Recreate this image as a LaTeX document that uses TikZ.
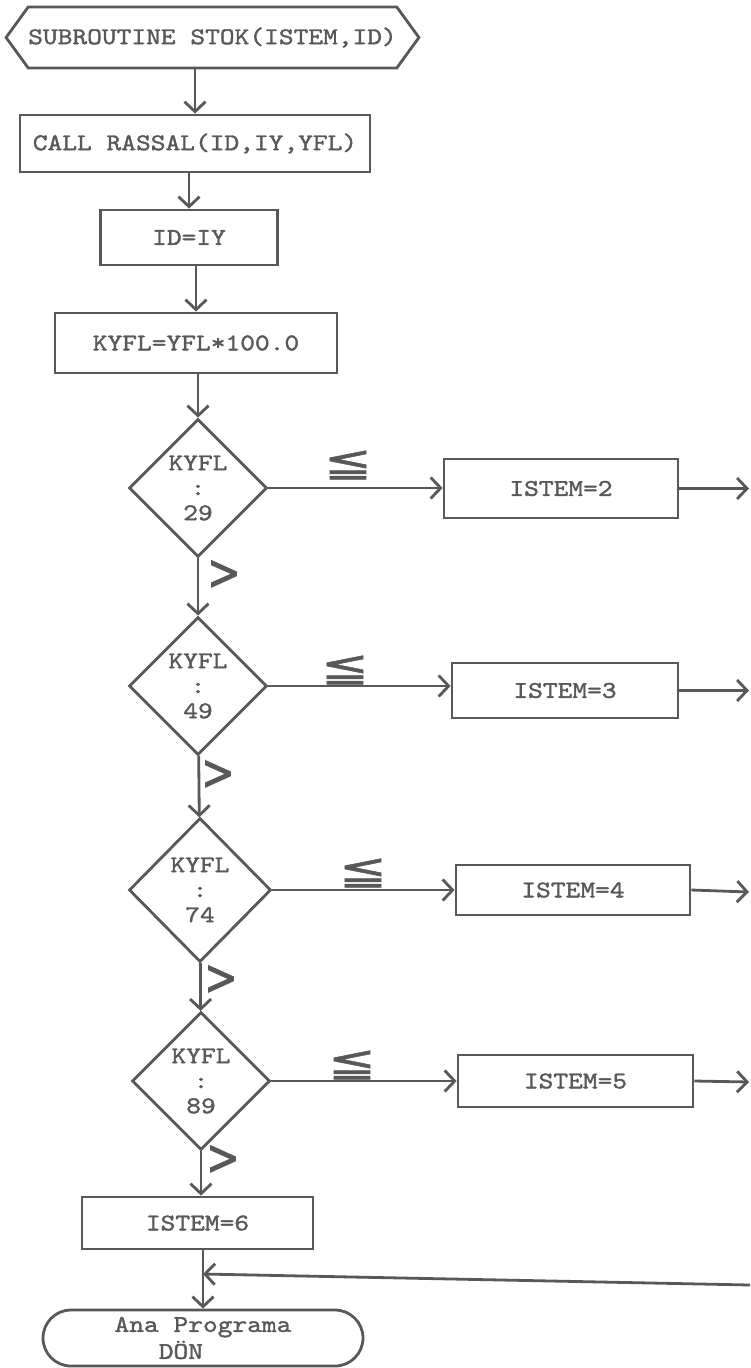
\documentclass[tikz,border=0pt]{standalone}
\usepackage{fontspec}
\usetikzlibrary{shapes.geometric,shapes.misc,shapes.symbols,arrows.meta}
\newfontfamily\typefont[FakeStretch=1.17,FakeBold=1.5]{lmmono10-regular.otf}
\newfontfamily\lefont[FakeStretch=1.45,FakeBold=1.2]{DejaVu Sans}
\newfontfamily\gtfont[FakeStretch=0.8,FakeBold=1.6]{DejaVu Sans}
\definecolor{ink}{RGB}{88,88,88}

\begin{document}
\begin{tikzpicture}[x=1pt, y=-1pt, color=ink, line width=2.8pt,
  >={Straight Barb[length=10pt,width=21pt]},
  tw/.style={font=\typefont\fontsize{24}{25}\selectfont},
  box/.style={draw, rectangle, tw, inner sep=0pt},
  test/.style={draw, diamond, aspect=1, tw, align=center, inner sep=0pt, minimum width=138pt, minimum height=138pt},
  le/.style={font=\lefont\fontsize{40}{40}\selectfont, inner sep=0pt},
  gt/.style={font=\gtfont\fontsize{50}{50}\selectfont, inner sep=0pt}]
\useasboundingbox (0,0) rectangle (750,1368);

% Start
\node[draw, signal, signal to=west and east, signal pointer angle=108, tw,
  minimum width=405pt, minimum height=61pt, inner sep=0pt] (sub) at (212.5,37.5) {SUBROUTINE STOK(ISTEM,ID)};

% Main column
\node[box, minimum width=350pt, minimum height=57pt] (rassal) at (195,143.5) {CALL RASSAL(ID,IY,YFL)};
\node[box, minimum width=177pt, minimum height=55pt] (idiy) at (189,237.5) {ID=IY};
\node[box, minimum width=282pt, minimum height=60pt] (kyfl) at (196,343) {KYFL=YFL*100.0};

% Tests
\node[test] (t29) at (198,488) {KYFL\\:\\29};
\node[test] (t49) at (198,686) {KYFL\\:\\49};
\node[test, minimum width=142pt, minimum height=144pt] (t74) at (200,890) {KYFL\\:\\74};
\node[test] (t89) at (201,1081) {KYFL\\:\\89};

% Assignments
\node[box, minimum width=234pt, minimum height=59pt] (i2) at (561,488.5) {ISTEM=2};
\node[box, minimum width=226pt, minimum height=55pt] (i3) at (565,690.5) {ISTEM=3};
\node[box, minimum width=234pt, minimum height=50pt] (i4) at (573,890) {ISTEM=4};
\node[box, minimum width=235pt, minimum height=52pt] (i5) at (575.5,1081) {ISTEM=5};
\node[box, minimum width=231pt, minimum height=52pt] (i6) at (197.5,1223) {ISTEM=6};

% End
\node[draw, rounded rectangle, tw, align=left, minimum width=320pt, minimum height=56pt,
  inner sep=0pt] (ana) at (203,1338) {Ana Programa\\[2pt]\hphantom{Ana}DÖN};

% Free ends
\coordinate (o2) at (749,488.5);
\coordinate (o3) at (749,690.5);
\coordinate (o4) at (749,892);
\coordinate (o5) at (749,1082);
\coordinate (back) at (750,1285);
\coordinate (join) at (203,1274);

% Flow
\draw[->] (rassal.north |- sub.south) -- (rassal.north);
\draw[->] (idiy.north |- rassal.south) -- (idiy.north);
\draw[->] (kyfl.north |- idiy.south) -- (kyfl.north);
\draw[->] (t29.north |- kyfl.south) -- (t29.north);
\draw[->] (t29) -- (t49);
\draw[->] (t49) -- (t74);
\draw[->] (t74) -- (t89);
\draw[->] (t89.south) -- (t89.south |- i6.north);

% Yes branches
\draw[->] (t29.east) -- (t29.east -| i2.west);
\draw[->] (t49.east) -- (t49.east -| i3.west);
\draw[->] (t74.east) -- (t74.east -| i4.west);
\draw[->] (t89.east) -- (t89.east -| i5.west);
\draw[->] (i2.east) -- (o2);
\draw[->] (i3.east) -- (o3);
\draw[->] (i4.east) -- (o4);
\draw[->] (i5.east) -- (o5);

% Return
\draw (join |- i6.south) -- (join);
\draw[->] (back) -- (join);
\draw[->] (join) -- (join |- ana.north);

% Relations
\node[le] (le29) at (348,465) {≦};
\node[le] (le49) at (345,670) {≦};
\node[le] (le74) at (363,873) {≦};
\node[le] (le89) at (352,1065) {≦};
\node[gt] (gt29) at (224,575) {>};
\node[gt] (gt49) at (218,775) {>};
\node[gt] (gt74) at (221,980) {>};
\node[gt] (gt89) at (223,1160) {>};

\end{tikzpicture}
\end{document}
